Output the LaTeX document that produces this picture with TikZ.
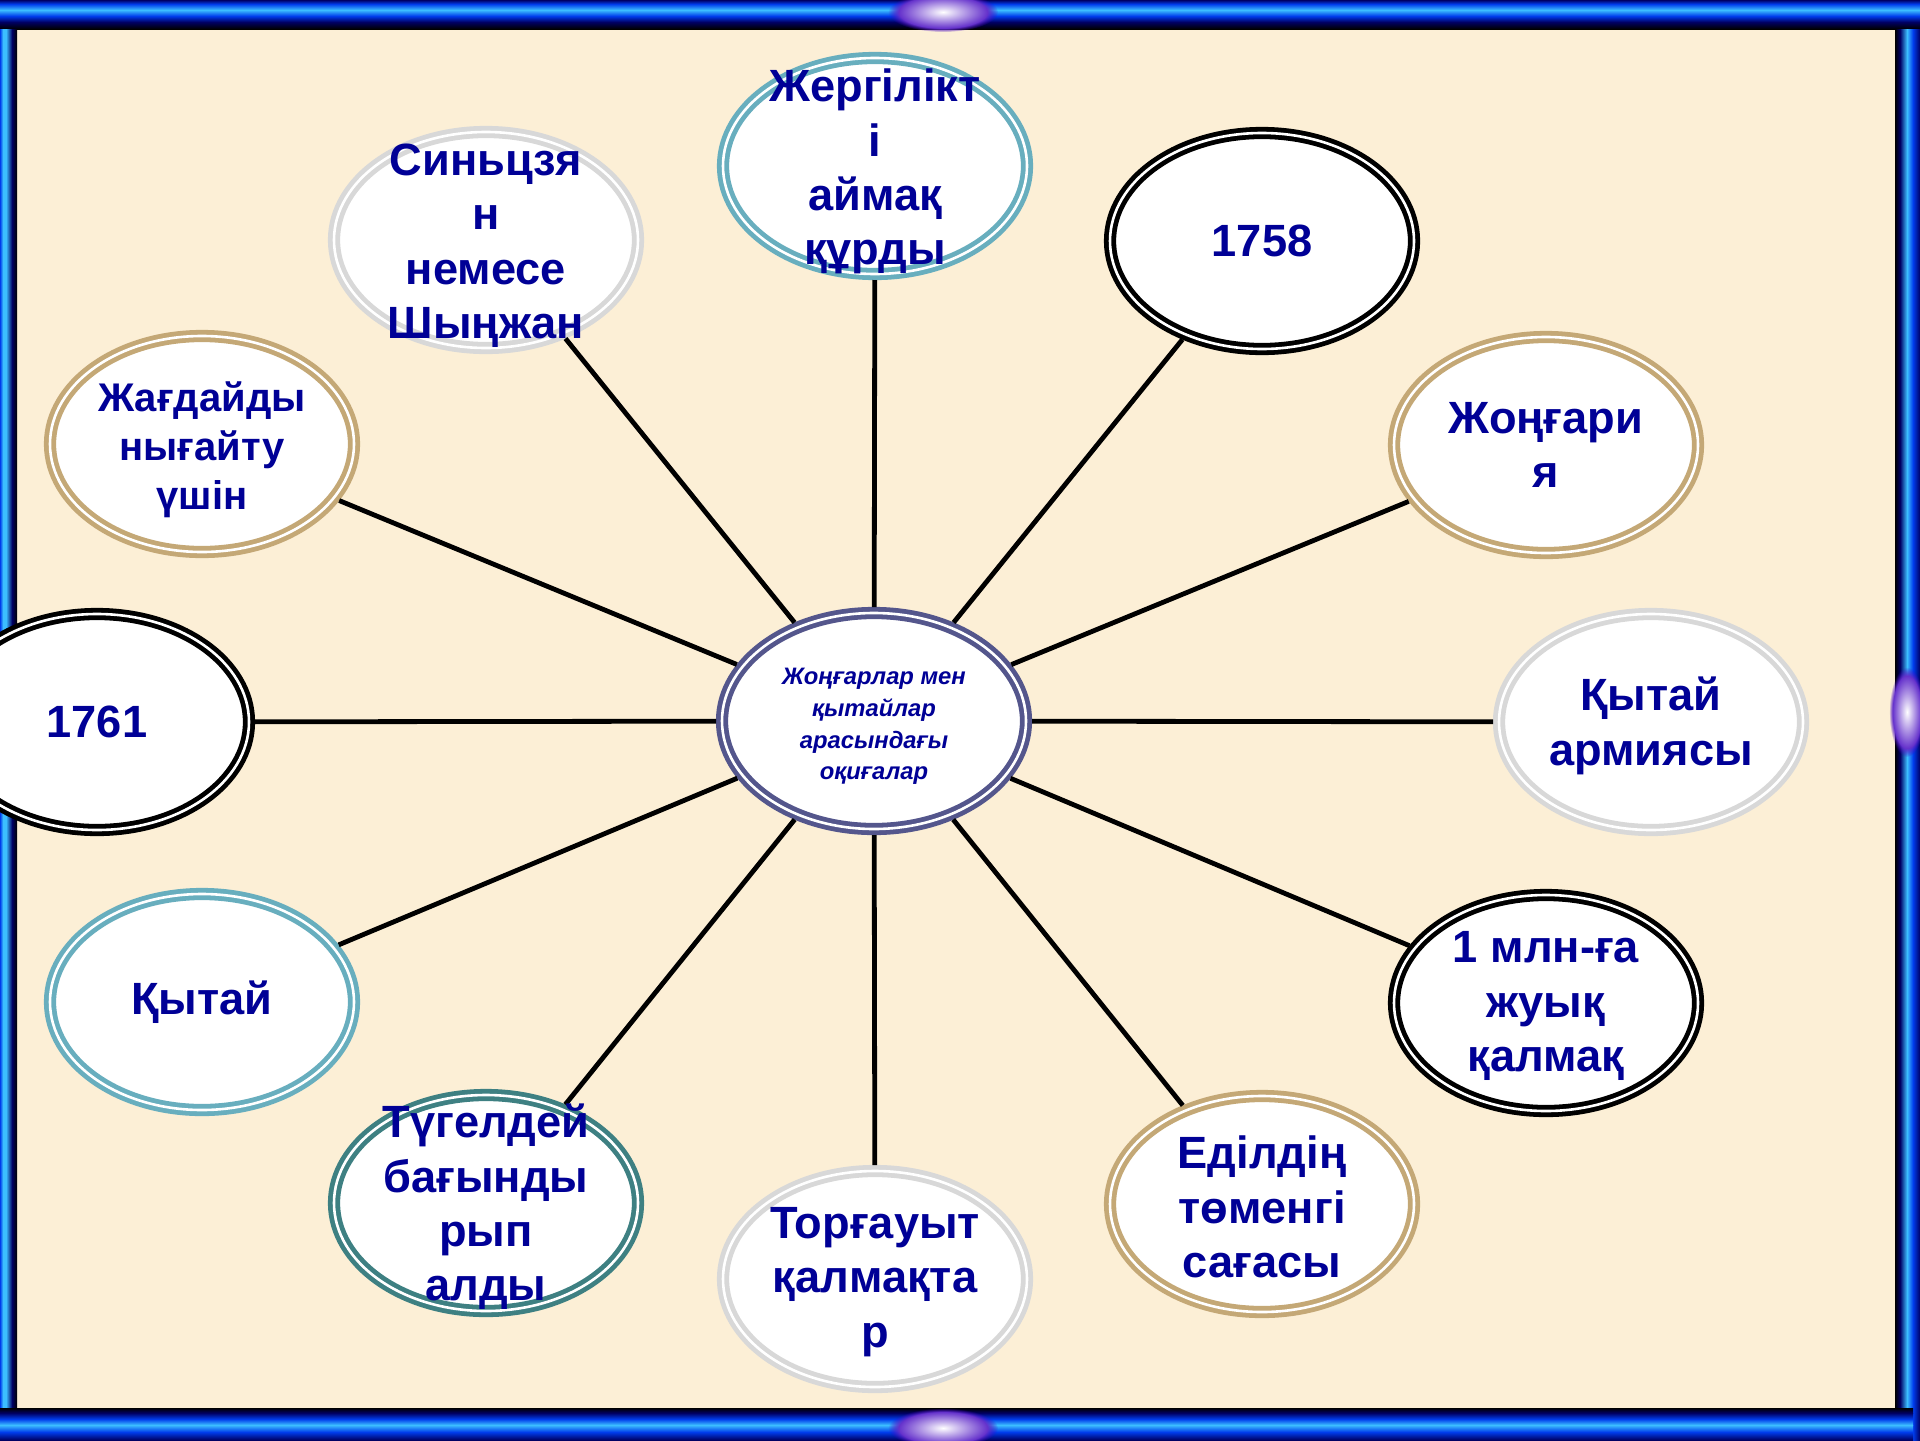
\documentclass[tikz,border=0pt]{standalone}
\usepackage{fontspec}
\setmainfont{Liberation Sans}
\usetikzlibrary{shapes.geometric,fadings}
\definecolor{txt}{RGB}{0,0,150}
\definecolor{bgc}{RGB}{252,239,214}
\definecolor{cteal}{RGB}{104,174,190}
\definecolor{cgray}{RGB}{216,216,216}
\definecolor{ctan}{RGB}{196,168,118}
\definecolor{cdteal}{RGB}{62,128,130}
\definecolor{ccen}{RGB}{84,86,140}
\definecolor{fnavy}{RGB}{0,0,100}
\definecolor{fblue}{RGB}{0,60,235}
\definecolor{fcyan}{RGB}{60,190,255}
\begin{document}
\begin{tikzpicture}[x=0.5pt,y=-0.5pt,
  bubble/.style={ellipse, draw=#1, line width=2.4pt, double=white, double distance=1.3pt,
    fill=white, minimum width=152pt, minimum height=108pt, inner sep=0pt, outer sep=3pt},
  lbl/.style={align=center, text=txt, inner sep=0pt,
    font=\bfseries\fontsize{22.6}{27.2}\selectfont},
  ml/.style={yshift=-2.8pt},
  conn/.style={line width=2.4pt, black}]
\useasboundingbox (0,0) rectangle (1920,1440);
\fill[bgc] (0,0) rectangle (1920,1440);
% frame: top bar
\shade[top color=fnavy, bottom color=fblue] (0,0) rectangle (1920,4);
\shade[top color=fblue, bottom color=fcyan] (0,4) rectangle (1920,10);
\shade[top color=fcyan, bottom color=fblue] (0,10) rectangle (1920,16);
\shade[top color=fblue, bottom color=fnavy] (0,16) rectangle (1920,22);
\shade[top color=fnavy, bottom color=black] (0,22) rectangle (1920,29);
% left bar
\shade[left color=fblue, right color=fcyan] (0,29) rectangle (3,1408);
\shade[left color=fcyan, right color=fcyan] (3,29) rectangle (6,1408);
\shade[left color=fcyan, right color=fnavy] (6,29) rectangle (12,1408);
\shade[left color=fnavy, right color=black] (12,29) rectangle (17,1408);
% right bar
\shade[left color=black, right color=fnavy] (1895,29) rectangle (1900,1440);
\shade[left color=fnavy, right color=fcyan] (1900,29) rectangle (1907,1440);
\shade[left color=fcyan, right color=fblue] (1907,29) rectangle (1913,1440);
\shade[left color=fblue, right color=fnavy] (1913,29) rectangle (1920,1440);
% bottom bar
\shade[top color=black, bottom color=fnavy] (0,1408) rectangle (1913,1413);
\shade[top color=fnavy, bottom color=fblue] (0,1413) rectangle (1913,1419);
\shade[top color=fblue, bottom color=fcyan] (0,1419) rectangle (1913,1425);
\shade[top color=fcyan, bottom color=fblue] (0,1425) rectangle (1913,1432);
\shade[top color=fblue, bottom color=fnavy] (0,1432) rectangle (1913,1440);
% sparkles
\shade[inner color=white, outer color=violet!50!blue, path fading=circle with fuzzy edge 20 percent] (943,12) ellipse [x radius=55, y radius=20];
\shade[inner color=white, outer color=violet!50!blue, path fading=circle with fuzzy edge 20 percent] (943,1428) ellipse [x radius=55, y radius=20];
\shade[inner color=white, outer color=violet!50!blue, path fading=circle with fuzzy edge 20 percent] (1907,712) ellipse [x radius=18, y radius=45];

% nodes
\node[bubble=ccen] (c) at (874,721) {};
\node[bubble=cteal] (n1) at (875,166) {};
\node[bubble=cgray] (n2) at (486,240) {};
\node[bubble=black] (n3) at (1262,241) {};
\node[bubble=ctan] (n4) at (202,444) {};
\node[bubble=ctan] (n5) at (1546,445) {};
\node[bubble=black] (n6) at (97,722) {};
\node[bubble=cgray] (n7) at (1651,722) {};
\node[bubble=cteal] (n8) at (202,1002) {};
\node[bubble=black] (n9) at (1546,1003) {};
\node[bubble=cdteal] (n10) at (486,1203) {};
\node[bubble=cgray] (n11) at (875,1279) {};
\node[bubble=ctan] (n12) at (1262,1204) {};

% connectors
\foreach \n in {n1,n2,n3,n4,n5,n6,n7,n8,n9,n10,n11,n12}
  \draw[conn] (c) -- (\n);

% labels
\node[lbl, ml, font=\bfseries\itshape\fontsize{11.9}{15.8}\selectfont] (tc) at (c) {Жоңғарлар мен\\қытайлар\\арасындағы\\оқиғалар};
\node[lbl, ml] (t1) at (n1) {Жергілікт\\і\\аймақ\\құрды};
\node[lbl, ml] (t2) at (n2) {Синьцзя\\н\\немесе\\Шыңжан};
\node[lbl] (t3) at (n3) {1758};
\node[lbl, ml, font=\bfseries\fontsize{20}{24.5}\selectfont] (t4) at (n4) {Жағдайды\\нығайту\\үшін};
\node[lbl] (t5) at (n5) {Жоңғари\\я};
\node[lbl] (t6) at (n6) {1761};
\node[lbl, yshift=-2pt] (t7) at (n7) {Қытай\\армиясы};
\node[lbl] (t8) at (n8) {Қытай};
\node[lbl, yshift=-1.5pt] (t9) at (n9) {1 млн-ға\\жуық\\қалмақ};
\node[lbl, yshift=-2pt] (t10) at (n10) {Түгелдей\\бағынды\\рып\\алды};
\node[lbl, yshift=-1.5pt] (t11) at (n11) {Торғауыт\\қалмақта\\р};
\node[lbl, yshift=-1.5pt] (t12) at (n12) {Еділдің\\төменгі\\сағасы};
\end{tikzpicture}
\end{document}
